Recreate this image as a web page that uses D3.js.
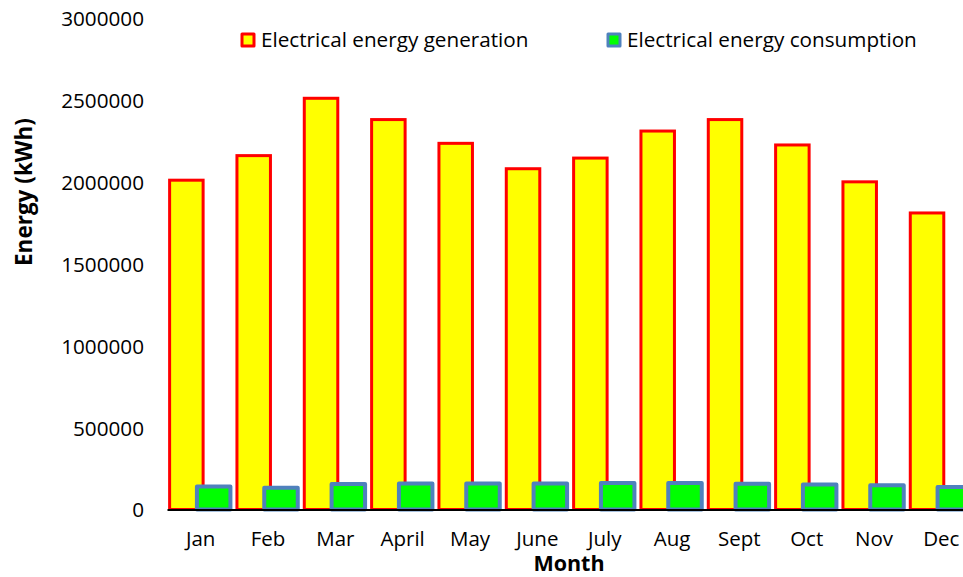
<!DOCTYPE html>
<html>
<head>
<meta charset="utf-8">
<script src="https://cdn.jsdelivr.net/npm/d3@7"></script>
<style>
  body { margin: 0; background: #fff; }
  text { font-family: "Open Sans", "Noto Sans", sans-serif; fill: #000; }
</style>
</head>
<body>
<script>
// chart data
var months = ["Jan", "Feb", "Mar", "April", "May", "June", "July", "Aug", "Sept", "Oct", "Nov", "Dec"];
var generation = [2010000, 2160000, 2510000, 2380000, 2235000, 2080000, 2145000, 2310000, 2380000, 2225000, 2000000, 1810000];
var consumption = [140000, 132000, 156000, 159000, 159000, 158000, 162000, 161000, 157000, 153000, 148000, 138000];
var yTicks = [0, 500000, 1000000, 1500000, 2000000, 2500000, 3000000];
var seriesNames = ["Electrical energy generation", "Electrical energy consumption"];

var svgWidth = 963;
var svgHeight = 577;

var svg = d3.select("body")
  .append("svg")
  .attr("width", svgWidth)
  .attr("height", svgHeight);

// scales
var xScale = d3.scaleBand()
  .domain(months)
  .range([167, 975]);

var yScale = d3.scaleLinear()
  .domain([0, 3000000])
  .range([509.5, 18]);

var barW = 33.5;
var genOffset = -14.3;
var conOffset = 13;

// y axis labels
var leftAxis = d3.axisLeft(yScale)
  .tickValues(yTicks)
  .tickFormat(d3.format("d"))
  .tickSize(0)
  .tickPadding(6);

var yAxisG = svg.append("g")
  .attr("transform", "translate(150,0)")
  .call(leftAxis);
yAxisG.select(".domain").remove();
yAxisG.selectAll("text")
  .attr("font-size", 20.7)
  .attr("dy", "0.36em")
  .style("font-family", "'Open Sans', sans-serif");

// generation bars
svg.selectAll(".gen")
  .data(generation)
  .enter()
  .append("rect")
  .attr("class", "gen")
  .attr("x", (d, i) => xScale(months[i]) + xScale.bandwidth() / 2 + genOffset - barW / 2)
  .attr("y", d => yScale(d))
  .attr("width", barW)
  .attr("height", d => yScale(0) - yScale(d))
  .attr("fill", "#ffff00")
  .attr("stroke", "#ff0000")
  .attr("stroke-width", 3);

// consumption bars
svg.selectAll(".con")
  .data(consumption)
  .enter()
  .append("rect")
  .attr("class", "con")
  .attr("x", (d, i) => xScale(months[i]) + xScale.bandwidth() / 2 + conOffset - barW / 2)
  .attr("y", d => yScale(d))
  .attr("width", barW)
  .attr("height", d => yScale(0) - yScale(d))
  .attr("fill", "#00ff00")
  .attr("stroke", "#4f81bd")
  .attr("stroke-width", 4)
  .attr("stroke-linejoin", "round");

// x axis
var bottomAxis = d3.axisBottom(xScale)
  .tickSize(0)
  .tickSizeOuter(0);

var xAxisG = svg.append("g")
  .attr("transform", `translate(0, ${yScale(0)})`)
  .call(bottomAxis);
xAxisG.select(".domain")
  .attr("stroke", "#000")
  .attr("stroke-width", 2);
xAxisG.selectAll("text")
  .attr("y", 29)
  .attr("dy", "0.36em")
  .attr("font-size", 20.5)
  .style("font-family", "'Open Sans', sans-serif");

// axis titles
svg.append("text")
  .attr("transform", "translate(32, 192) rotate(-90)")
  .attr("text-anchor", "middle")
  .attr("font-size", 22.5)
  .attr("font-weight", "bold")
  .text("Energy (kWh)");

svg.append("text")
  .attr("x", 569)
  .attr("y", 571)
  .attr("text-anchor", "middle")
  .attr("font-size", 21.5)
  .attr("font-weight", "bold")
  .text("Month");

// legend
var legendX = [242, 608];
var legendFill = ["#ffff00", "#00ff00"];
var legendStroke = ["#ff0000", "#4f81bd"];

var legend = svg.selectAll(".legend")
  .data(seriesNames)
  .enter()
  .append("g")
  .attr("class", "legend")
  .attr("transform", (d, i) => `translate(${legendX[i]}, 40)`);

legend.append("rect")
  .attr("x", 0)
  .attr("y", -6)
  .attr("width", 12)
  .attr("height", 12)
  .attr("fill", (d, i) => legendFill[i])
  .attr("stroke", (d, i) => legendStroke[i])
  .attr("stroke-width", 3)
  .attr("stroke-linejoin", "round");

legend.append("text")
  .attr("x", 19)
  .attr("dy", "0.36em")
  .attr("font-size", 20.7)
  .text(d => d);
</script>
</body>
</html>
